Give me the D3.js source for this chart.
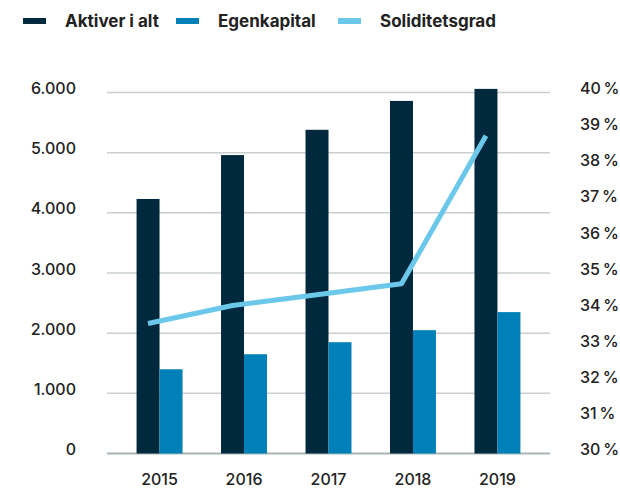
<!DOCTYPE html>
<html>
<head>
<meta charset="utf-8">
<script src="https://cdn.jsdelivr.net/npm/d3@7"></script>
<style>
  html, body { margin: 0; padding: 0; background: #fff; }
  svg { display: block; font-family: Inter, "Noto Sans", sans-serif; }
</style>
</head>
<body>
<svg id="chart"></svg>
<script>
// data
const years = ["2015", "2016", "2017", "2018", "2019"];
const aktiver = [4230, 4960, 5380, 5860, 6060];
const egenkapital = [1400, 1650, 1850, 2050, 2350];
const soliditet = [33.6, 34.1, 34.4, 34.7, 38.8];
const leftTicks = [0, 1000, 2000, 3000, 4000, 5000, 6000];
const rightTicks = [30, 31, 32, 33, 34, 35, 36, 37, 38, 39, 40];
const seriesNames = ["Aktiver i alt", "Egenkapital", "Soliditetsgrad"];

const width = 620, height = 489;
const colors = { dark: "#01293d", blue: "#0080b8", light: "#6bc8ea" };
const legendColors = [colors.dark, colors.blue, colors.light];
const legendX = [23, 176, 338];

const svg = d3.select("#chart")
    .attr("width", width)
    .attr("height", height)
    .attr("viewBox", [0, 0, width, height]);

const plotLeft = 107, plotRight = 550;

const x = d3.scaleBand()
    .domain(years)
    .range([plotLeft, plotRight])
    .paddingInner(0.456)
    .paddingOuter(0.35);

const x1 = d3.scaleBand()
    .domain(["aktiver", "egenkapital"])
    .range([0, x.bandwidth()]);

const y = d3.scaleLinear().domain([0, 6000]).range([453.5, 92.5]);
const y2 = d3.scaleLinear().domain([30, 40]).range([453.5, 92.5]);

const nf = d3.formatLocale({decimal: ",", thousands: ".", grouping: [3], currency: ["", " kr"]}).format(",");

// gridlines
svg.append("g")
  .selectAll("line")
  .data(leftTicks)
  .join("line")
    .attr("x1", plotLeft)
    .attr("x2", plotRight)
    .attr("y1", d => y(d))
    .attr("y2", d => y(d))
    .attr("stroke", d => d === 0 ? "#aab4b6" : "#c9cfd0")
    .attr("stroke-width", d => d === 0 ? 2 : 1.5);

// bars
const groups = svg.append("g")
  .selectAll("g")
  .data(years)
  .join("g")
    .attr("transform", d => `translate(${x(d)},0)`);

groups.append("rect")
    .attr("x", x1("aktiver"))
    .attr("width", x1.bandwidth())
    .attr("y", (d, i) => y(aktiver[i]))
    .attr("height", (d, i) => y(0) - y(aktiver[i]))
    .attr("fill", colors.dark);

groups.append("rect")
    .attr("x", x1("egenkapital"))
    .attr("width", x1.bandwidth())
    .attr("y", (d, i) => y(egenkapital[i]))
    .attr("height", (d, i) => y(0) - y(egenkapital[i]))
    .attr("fill", colors.blue);

// line
const line = d3.line()
    .x((d, i) => x(years[i]) + x1("aktiver") + x1.bandwidth() / 2)
    .y(d => y2(d));

svg.append("path")
    .datum(soliditet)
    .attr("fill", "none")
    .attr("stroke", colors.light)
    .attr("stroke-width", 5)
    .attr("stroke-linejoin", "round")
    .attr("d", line);

// axes
const leftAxis = svg.append("g")
    .attr("transform", `translate(${plotLeft},0)`)
    .call(d3.axisLeft(y).tickValues(leftTicks).tickSize(0).tickPadding(31).tickFormat(nf))
    .call(g => g.select(".domain").remove());

const rightAxis = svg.append("g")
    .attr("transform", `translate(${plotRight},0)`)
    .call(d3.axisRight(y2).tickValues(rightTicks).tickSize(0).tickPadding(30).tickFormat(d => d + "\u2009%"))
    .call(g => g.select(".domain").remove());

const bottomAxis = svg.append("g")
    .attr("transform", `translate(0,${y(0)})`)
    .call(d3.axisBottom(x).tickSize(0).tickPadding(20))
    .call(g => g.select(".domain").remove());

svg.selectAll(".tick text")
    .attr("font-family", "Inter, 'Noto Sans', sans-serif")
    .attr("font-size", 16)
    .attr("font-weight", 500)
    .attr("fill", "#222");

leftAxis.selectAll(".tick text").attr("y", -4);
rightAxis.selectAll(".tick text").attr("y", -4);

// legend
const legend = svg.append("g")
  .selectAll("g")
  .data(seriesNames)
  .join("g")
    .attr("transform", (d, i) => `translate(${legendX[i]},21)`);

legend.append("rect")
    .attr("x", 0)
    .attr("y", -3)
    .attr("width", 23)
    .attr("height", 6)
    .attr("fill", (d, i) => legendColors[i]);

legend.append("text")
    .attr("x", 42)
    .attr("dy", "0.35em")
    .attr("font-size", 17)
    .attr("font-weight", 700)
    .attr("fill", "#222")
    .text(d => d);
</script>
</body>
</html>
